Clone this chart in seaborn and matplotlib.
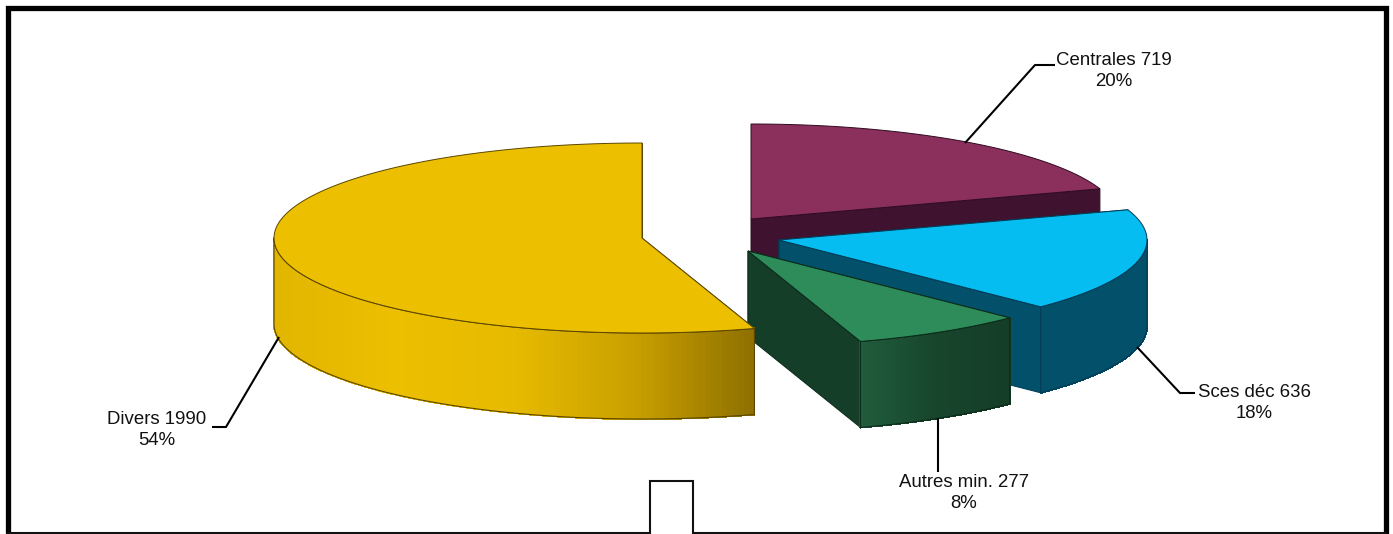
import numpy as np
import seaborn as sns
import matplotlib
matplotlib.use('Agg')
import matplotlib.pyplot as plt
from matplotlib.collections import PolyCollection

categories = ['Centrales', 'Sces déc', 'Autres min.', 'Divers']
values = [719, 636, 277, 1990]
percents = [20, 18, 8, 54]

# look of the slices
top_colors = ['#8B2F5D', '#05BDF0', '#2E8B5A', '#ECBF00']
face_colors = ['#3F132F', '#03506B', '#143E28', '#8F7000']
edge_colors = ['#2E0C20', '#023A55', '#0B2A1A', '#5A4600']
wall_ramps = [
    ['#3F132F', '#3F132F'],
    ['#03506B', '#03506B'],
    ['#205C3C', '#17452C', '#153D27'],
    ['#E2B500', '#ECBF00', '#E6BA00', '#C9A000', '#8F7000'],
]

# layout, in pixels of the picture
centers = [(751, 219), (779, 240), (748, 251), (642, 238)]
label_pos = [(1114, 71), (1254, 403), (964, 493), (157, 430)]
leaders = [
    [(965, 143), (1035, 65), (1055, 65)],
    [(1137, 347), (1180, 393), (1195, 393)],
    [(938, 418), (938, 472)],
    [(279, 337), (226, 427), (212, 427)],
]
RX, RY, DEPTH = 368, 95, 86

sns.set_theme(style='white')
plt.rcParams['font.family'] = ['Liberation Sans', 'DejaVu Sans']


def rim(center, a, b, n=80):
    t = np.linspace(a, b, n)
    return center[0] + RX * np.sin(t), center[1] - RY * np.cos(t)


fig = plt.figure(figsize=(13.93, 5.34), dpi=100)
ax = fig.add_axes([0, 0, 1, 1])
ax.set_xlim(0, 1393)
ax.set_ylim(534, 0)
ax.axis('off')

edges = np.cumsum([0] + values) / sum(values) * 2 * np.pi

for i, cat in enumerate(categories):
    a, b = edges[i], edges[i + 1]
    c = centers[i]

    # the two cut sides of the slice
    for ang in (a, b):
        x1, y1 = rim(c, ang, ang, 1)
        ax.fill([c[0], x1[0], x1[0], c[0]],
                [c[1], y1[0], y1[0] + DEPTH, c[1] + DEPTH],
                facecolor=face_colors[i], edgecolor=edge_colors[i], lw=0.7, zorder=i * 4 + 1)

    # outer wall, only the part turned to the viewer
    lo, hi = max(a, np.pi / 2), min(b, 3 * np.pi / 2)
    if hi > lo:
        xs, ys = rim(c, lo, hi, 120)
        polys = []
        for k in range(len(xs) - 1):
            polys.append([(xs[k], ys[k]), (xs[k + 1], ys[k + 1]),
                          (xs[k + 1], ys[k + 1] + DEPTH), (xs[k], ys[k] + DEPTH)])
        ramp = sns.blend_palette(wall_ramps[i], n_colors=256)
        pos = (np.array(xs[:-1]) - xs.min()) / (xs.max() - xs.min())
        cols = [ramp[int(p * 255)] for p in pos]
        ax.add_collection(PolyCollection(polys, facecolors=cols, edgecolors=cols,
                                         linewidths=0.8, antialiaseds=False, zorder=i * 4 + 2))
        ox = np.r_[xs, xs[::-1]]
        oy = np.r_[ys, ys[::-1] + DEPTH]
        ax.fill(ox, oy, fill=False, edgecolor=edge_colors[i], lw=0.8, zorder=i * 4 + 3)

    # top of the slice
    xs, ys = rim(c, a, b, 160)
    ax.fill(np.r_[c[0], xs], np.r_[c[1], ys],
            facecolor=top_colors[i], edgecolor=edge_colors[i], lw=0.7, zorder=i * 4 + 4)

# leader lines and labels
for i, cat in enumerate(categories):
    pts = np.array(leaders[i])
    ax.plot(pts[:, 0], pts[:, 1], color='black', lw=1.5, zorder=30, solid_capstyle='butt')
    ax.text(label_pos[i][0], label_pos[i][1], f'{cat} {values[i]}\n{percents[i]}%',
            ha='center', va='center', ma='center', fontsize=13.4, color='#111111',
            linespacing=1.28, zorder=31)

# frame around the chart, with the small tab on the bottom edge
ax.plot([7.5, 7.5, 1385.5, 1385.5], [533, 7.5, 7.5, 533], color='black', lw=3.8,
        solid_joinstyle='miter', zorder=40)
ax.plot([7, 650, 650, 693, 693, 1386], [533, 533, 480.5, 480.5, 533, 533], color='#111111',
        lw=1.5, solid_joinstyle='miter', zorder=40)

fig.savefig('out.png', dpi=100)
